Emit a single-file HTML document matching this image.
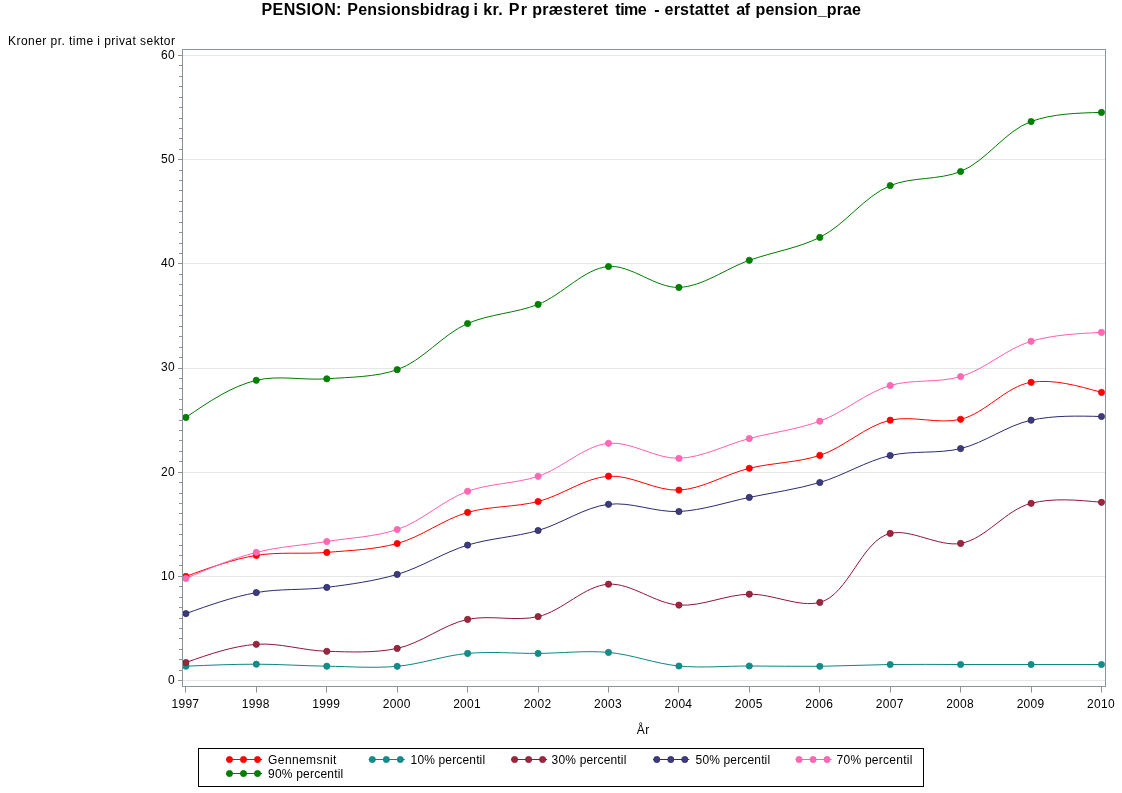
<!DOCTYPE html>
<html lang="da"><head><meta charset="utf-8"><title>PENSION</title>
<style>html,body{margin:0;padding:0;background:#fff;width:1122px;height:793px;overflow:hidden}body{position:relative}.t{font-family:"Liberation Sans",sans-serif}</style></head>
<body>
<svg width="1122" height="793" viewBox="0 0 1122 793" style="position:absolute;left:0;top:0">
<line x1="182.5" y1="680.5" x2="1105.5" y2="680.5" stroke="#E6E6E6" stroke-width="1"/>
<line x1="182.5" y1="576.5" x2="1105.5" y2="576.5" stroke="#E6E6E6" stroke-width="1"/>
<line x1="182.5" y1="472.5" x2="1105.5" y2="472.5" stroke="#E6E6E6" stroke-width="1"/>
<line x1="182.5" y1="368.5" x2="1105.5" y2="368.5" stroke="#E6E6E6" stroke-width="1"/>
<line x1="182.5" y1="263.5" x2="1105.5" y2="263.5" stroke="#E6E6E6" stroke-width="1"/>
<line x1="182.5" y1="159.5" x2="1105.5" y2="159.5" stroke="#E6E6E6" stroke-width="1"/>
<line x1="182.5" y1="55.5" x2="1105.5" y2="55.5" stroke="#E6E6E6" stroke-width="1"/>
<path d="M185.90 576.40 C209.12 567.88 232.34 559.36 256.33 555.40 C279.34 551.60 303.37 554.37 326.76 552.40 C350.32 550.42 374.59 549.63 397.19 543.50 C421.70 536.85 443.16 519.42 467.62 512.40 C490.26 505.90 515.12 507.28 538.05 501.50 C562.13 495.43 584.49 477.86 608.48 476.20 C631.49 474.60 655.74 491.24 678.91 490.10 C702.71 488.93 725.51 474.13 749.34 468.30 C772.48 462.64 797.31 462.73 819.77 455.40 C844.47 447.34 865.26 425.92 890.20 420.20 C912.51 415.09 938.42 424.59 960.63 419.30 C985.72 413.33 1006.12 386.14 1031.06 382.30 C1053.37 378.87 1077.43 385.63 1101.49 392.40" fill="none" stroke="#FF0000" stroke-width="1"/>
<path d="M185.90 666.20 C209.38 665.20 232.85 664.20 256.33 664.20 C279.81 664.20 303.28 665.85 326.76 666.20 C350.23 666.55 373.90 668.38 397.19 666.30 C420.86 664.18 443.95 655.53 467.62 653.40 C490.91 651.30 514.57 653.57 538.05 653.40 C561.53 653.23 585.21 650.36 608.48 652.40 C632.17 654.47 655.21 663.75 678.91 666.00 C702.18 668.21 725.86 665.95 749.34 666.00 C772.82 666.05 796.30 666.55 819.77 666.30 C843.25 666.05 866.72 664.80 890.20 664.50 C913.67 664.20 937.15 664.50 960.63 664.50 C984.11 664.50 1007.58 664.50 1031.06 664.50 C1054.54 664.50 1078.01 664.50 1101.49 664.50" fill="none" stroke="#0C8682" stroke-width="1"/>
<path d="M185.90 662.50 C209.21 654.29 232.52 646.08 256.33 644.30 C279.49 642.57 303.24 650.62 326.76 651.30 C350.19 651.98 374.55 653.20 397.19 648.40 C421.65 643.21 443.16 624.57 467.62 619.40 C490.26 614.62 515.59 621.77 538.05 616.60 C562.75 610.92 584.34 585.68 608.48 584.20 C631.36 582.80 655.07 603.57 678.91 605.10 C702.04 606.58 725.80 594.63 749.34 594.20 C772.76 593.77 799.05 607.73 819.77 602.40 C848.58 594.99 861.46 540.36 890.20 533.40 C910.94 528.38 938.50 547.11 960.63 543.40 C985.85 539.17 1005.69 509.72 1031.06 503.30 C1053.11 497.72 1077.30 500.01 1101.49 502.30" fill="none" stroke="#8E1638" stroke-width="1"/>
<path d="M185.90 613.60 C209.13 605.28 232.37 596.95 256.33 592.60 C279.36 588.42 303.45 590.39 326.76 587.40 C350.40 584.36 374.41 581.08 397.19 574.40 C421.45 567.29 443.41 552.50 467.62 545.10 C490.45 538.13 515.07 537.07 538.05 530.50 C562.06 523.63 584.26 507.22 608.48 504.30 C631.30 501.54 655.60 512.59 678.91 511.50 C702.56 510.39 725.89 502.23 749.34 497.40 C772.84 492.56 796.82 489.24 819.77 482.50 C843.82 475.44 865.93 461.12 890.20 455.50 C912.97 450.23 937.92 454.05 960.63 448.60 C985.00 442.76 1006.65 425.45 1031.06 420.20 C1053.73 415.33 1077.61 415.91 1101.49 416.50" fill="none" stroke="#2C2A6E" stroke-width="1"/>
<path d="M185.90 578.40 C209.05 568.49 232.21 558.58 256.33 552.40 C279.23 546.53 303.31 545.31 326.76 541.50 C350.27 537.68 374.91 536.97 397.19 529.50 C422.17 521.13 442.75 500.26 467.62 491.30 C489.97 483.25 515.41 483.79 538.05 476.30 C562.50 468.21 584.03 445.78 608.48 443.30 C631.12 441.00 655.62 459.00 678.91 458.30 C702.58 457.59 725.76 444.71 749.34 438.50 C772.71 432.35 797.21 429.44 819.77 421.20 C844.33 412.23 865.34 392.87 890.20 385.50 C912.55 378.87 938.25 383.19 960.63 376.60 C985.46 369.29 1006.23 348.61 1031.06 341.30 C1053.44 334.71 1077.46 333.56 1101.49 332.40" fill="none" stroke="#FF5FB0" stroke-width="1"/>
<path d="M185.90 417.40 C208.57 401.90 231.23 386.41 256.33 380.30 C278.54 374.90 303.38 380.55 326.76 378.80 C350.33 377.04 375.40 377.29 397.19 369.70 C423.04 360.70 442.20 334.59 467.62 323.50 C489.64 313.90 515.55 313.23 538.05 304.40 C562.71 294.72 583.92 268.60 608.48 266.50 C631.04 264.58 655.74 288.21 678.91 287.40 C702.71 286.57 725.64 268.70 749.34 260.30 C772.60 252.06 797.94 248.24 819.77 237.40 C845.54 224.60 863.92 196.53 890.20 185.60 C911.79 176.62 938.95 180.36 960.63 171.50 C986.70 160.85 1004.80 131.04 1031.06 121.50 C1052.65 113.65 1077.07 113.03 1101.49 112.40" fill="none" stroke="#007A00" stroke-width="1"/>
<circle cx="185.9" cy="576.4" r="3.1" fill="#FF0000" stroke="#FF0000" stroke-width="0.8"/>
<circle cx="256.3" cy="555.4" r="3.1" fill="#FF0000" stroke="#FF0000" stroke-width="0.8"/>
<circle cx="326.8" cy="552.4" r="3.1" fill="#FF0000" stroke="#FF0000" stroke-width="0.8"/>
<circle cx="397.2" cy="543.5" r="3.1" fill="#FF0000" stroke="#FF0000" stroke-width="0.8"/>
<circle cx="467.6" cy="512.4" r="3.1" fill="#FF0000" stroke="#FF0000" stroke-width="0.8"/>
<circle cx="538.1" cy="501.5" r="3.1" fill="#FF0000" stroke="#FF0000" stroke-width="0.8"/>
<circle cx="608.5" cy="476.2" r="3.1" fill="#FF0000" stroke="#FF0000" stroke-width="0.8"/>
<circle cx="678.9" cy="490.1" r="3.1" fill="#FF0000" stroke="#FF0000" stroke-width="0.8"/>
<circle cx="749.3" cy="468.3" r="3.1" fill="#FF0000" stroke="#FF0000" stroke-width="0.8"/>
<circle cx="819.8" cy="455.4" r="3.1" fill="#FF0000" stroke="#FF0000" stroke-width="0.8"/>
<circle cx="890.2" cy="420.2" r="3.1" fill="#FF0000" stroke="#FF0000" stroke-width="0.8"/>
<circle cx="960.6" cy="419.3" r="3.1" fill="#FF0000" stroke="#FF0000" stroke-width="0.8"/>
<circle cx="1031.1" cy="382.3" r="3.1" fill="#FF0000" stroke="#FF0000" stroke-width="0.8"/>
<circle cx="1101.5" cy="392.4" r="3.1" fill="#FF0000" stroke="#FF0000" stroke-width="0.8"/>
<circle cx="185.9" cy="666.2" r="3.1" fill="#168C89" stroke="#0C8682" stroke-width="0.8"/>
<circle cx="256.3" cy="664.2" r="3.1" fill="#168C89" stroke="#0C8682" stroke-width="0.8"/>
<circle cx="326.8" cy="666.2" r="3.1" fill="#168C89" stroke="#0C8682" stroke-width="0.8"/>
<circle cx="397.2" cy="666.3" r="3.1" fill="#168C89" stroke="#0C8682" stroke-width="0.8"/>
<circle cx="467.6" cy="653.4" r="3.1" fill="#168C89" stroke="#0C8682" stroke-width="0.8"/>
<circle cx="538.1" cy="653.4" r="3.1" fill="#168C89" stroke="#0C8682" stroke-width="0.8"/>
<circle cx="608.5" cy="652.4" r="3.1" fill="#168C89" stroke="#0C8682" stroke-width="0.8"/>
<circle cx="678.9" cy="666.0" r="3.1" fill="#168C89" stroke="#0C8682" stroke-width="0.8"/>
<circle cx="749.3" cy="666.0" r="3.1" fill="#168C89" stroke="#0C8682" stroke-width="0.8"/>
<circle cx="819.8" cy="666.3" r="3.1" fill="#168C89" stroke="#0C8682" stroke-width="0.8"/>
<circle cx="890.2" cy="664.5" r="3.1" fill="#168C89" stroke="#0C8682" stroke-width="0.8"/>
<circle cx="960.6" cy="664.5" r="3.1" fill="#168C89" stroke="#0C8682" stroke-width="0.8"/>
<circle cx="1031.1" cy="664.5" r="3.1" fill="#168C89" stroke="#0C8682" stroke-width="0.8"/>
<circle cx="1101.5" cy="664.5" r="3.1" fill="#168C89" stroke="#0C8682" stroke-width="0.8"/>
<circle cx="185.9" cy="662.5" r="3.1" fill="#98283C" stroke="#8E1638" stroke-width="0.8"/>
<circle cx="256.3" cy="644.3" r="3.1" fill="#98283C" stroke="#8E1638" stroke-width="0.8"/>
<circle cx="326.8" cy="651.3" r="3.1" fill="#98283C" stroke="#8E1638" stroke-width="0.8"/>
<circle cx="397.2" cy="648.4" r="3.1" fill="#98283C" stroke="#8E1638" stroke-width="0.8"/>
<circle cx="467.6" cy="619.4" r="3.1" fill="#98283C" stroke="#8E1638" stroke-width="0.8"/>
<circle cx="538.1" cy="616.6" r="3.1" fill="#98283C" stroke="#8E1638" stroke-width="0.8"/>
<circle cx="608.5" cy="584.2" r="3.1" fill="#98283C" stroke="#8E1638" stroke-width="0.8"/>
<circle cx="678.9" cy="605.1" r="3.1" fill="#98283C" stroke="#8E1638" stroke-width="0.8"/>
<circle cx="749.3" cy="594.2" r="3.1" fill="#98283C" stroke="#8E1638" stroke-width="0.8"/>
<circle cx="819.8" cy="602.4" r="3.1" fill="#98283C" stroke="#8E1638" stroke-width="0.8"/>
<circle cx="890.2" cy="533.4" r="3.1" fill="#98283C" stroke="#8E1638" stroke-width="0.8"/>
<circle cx="960.6" cy="543.4" r="3.1" fill="#98283C" stroke="#8E1638" stroke-width="0.8"/>
<circle cx="1031.1" cy="503.3" r="3.1" fill="#98283C" stroke="#8E1638" stroke-width="0.8"/>
<circle cx="1101.5" cy="502.3" r="3.1" fill="#98283C" stroke="#8E1638" stroke-width="0.8"/>
<circle cx="185.9" cy="613.6" r="3.1" fill="#3E3C78" stroke="#2C2A6E" stroke-width="0.8"/>
<circle cx="256.3" cy="592.6" r="3.1" fill="#3E3C78" stroke="#2C2A6E" stroke-width="0.8"/>
<circle cx="326.8" cy="587.4" r="3.1" fill="#3E3C78" stroke="#2C2A6E" stroke-width="0.8"/>
<circle cx="397.2" cy="574.4" r="3.1" fill="#3E3C78" stroke="#2C2A6E" stroke-width="0.8"/>
<circle cx="467.6" cy="545.1" r="3.1" fill="#3E3C78" stroke="#2C2A6E" stroke-width="0.8"/>
<circle cx="538.1" cy="530.5" r="3.1" fill="#3E3C78" stroke="#2C2A6E" stroke-width="0.8"/>
<circle cx="608.5" cy="504.3" r="3.1" fill="#3E3C78" stroke="#2C2A6E" stroke-width="0.8"/>
<circle cx="678.9" cy="511.5" r="3.1" fill="#3E3C78" stroke="#2C2A6E" stroke-width="0.8"/>
<circle cx="749.3" cy="497.4" r="3.1" fill="#3E3C78" stroke="#2C2A6E" stroke-width="0.8"/>
<circle cx="819.8" cy="482.5" r="3.1" fill="#3E3C78" stroke="#2C2A6E" stroke-width="0.8"/>
<circle cx="890.2" cy="455.5" r="3.1" fill="#3E3C78" stroke="#2C2A6E" stroke-width="0.8"/>
<circle cx="960.6" cy="448.6" r="3.1" fill="#3E3C78" stroke="#2C2A6E" stroke-width="0.8"/>
<circle cx="1031.1" cy="420.2" r="3.1" fill="#3E3C78" stroke="#2C2A6E" stroke-width="0.8"/>
<circle cx="1101.5" cy="416.5" r="3.1" fill="#3E3C78" stroke="#2C2A6E" stroke-width="0.8"/>
<circle cx="185.9" cy="578.4" r="3.1" fill="#FF69B4" stroke="#FF5FB0" stroke-width="0.8"/>
<circle cx="256.3" cy="552.4" r="3.1" fill="#FF69B4" stroke="#FF5FB0" stroke-width="0.8"/>
<circle cx="326.8" cy="541.5" r="3.1" fill="#FF69B4" stroke="#FF5FB0" stroke-width="0.8"/>
<circle cx="397.2" cy="529.5" r="3.1" fill="#FF69B4" stroke="#FF5FB0" stroke-width="0.8"/>
<circle cx="467.6" cy="491.3" r="3.1" fill="#FF69B4" stroke="#FF5FB0" stroke-width="0.8"/>
<circle cx="538.1" cy="476.3" r="3.1" fill="#FF69B4" stroke="#FF5FB0" stroke-width="0.8"/>
<circle cx="608.5" cy="443.3" r="3.1" fill="#FF69B4" stroke="#FF5FB0" stroke-width="0.8"/>
<circle cx="678.9" cy="458.3" r="3.1" fill="#FF69B4" stroke="#FF5FB0" stroke-width="0.8"/>
<circle cx="749.3" cy="438.5" r="3.1" fill="#FF69B4" stroke="#FF5FB0" stroke-width="0.8"/>
<circle cx="819.8" cy="421.2" r="3.1" fill="#FF69B4" stroke="#FF5FB0" stroke-width="0.8"/>
<circle cx="890.2" cy="385.5" r="3.1" fill="#FF69B4" stroke="#FF5FB0" stroke-width="0.8"/>
<circle cx="960.6" cy="376.6" r="3.1" fill="#FF69B4" stroke="#FF5FB0" stroke-width="0.8"/>
<circle cx="1031.1" cy="341.3" r="3.1" fill="#FF69B4" stroke="#FF5FB0" stroke-width="0.8"/>
<circle cx="1101.5" cy="332.4" r="3.1" fill="#FF69B4" stroke="#FF5FB0" stroke-width="0.8"/>
<circle cx="185.9" cy="417.4" r="3.1" fill="#008000" stroke="#007A00" stroke-width="0.8"/>
<circle cx="256.3" cy="380.3" r="3.1" fill="#008000" stroke="#007A00" stroke-width="0.8"/>
<circle cx="326.8" cy="378.8" r="3.1" fill="#008000" stroke="#007A00" stroke-width="0.8"/>
<circle cx="397.2" cy="369.7" r="3.1" fill="#008000" stroke="#007A00" stroke-width="0.8"/>
<circle cx="467.6" cy="323.5" r="3.1" fill="#008000" stroke="#007A00" stroke-width="0.8"/>
<circle cx="538.1" cy="304.4" r="3.1" fill="#008000" stroke="#007A00" stroke-width="0.8"/>
<circle cx="608.5" cy="266.5" r="3.1" fill="#008000" stroke="#007A00" stroke-width="0.8"/>
<circle cx="678.9" cy="287.4" r="3.1" fill="#008000" stroke="#007A00" stroke-width="0.8"/>
<circle cx="749.3" cy="260.3" r="3.1" fill="#008000" stroke="#007A00" stroke-width="0.8"/>
<circle cx="819.8" cy="237.4" r="3.1" fill="#008000" stroke="#007A00" stroke-width="0.8"/>
<circle cx="890.2" cy="185.6" r="3.1" fill="#008000" stroke="#007A00" stroke-width="0.8"/>
<circle cx="960.6" cy="171.5" r="3.1" fill="#008000" stroke="#007A00" stroke-width="0.8"/>
<circle cx="1031.1" cy="121.5" r="3.1" fill="#008000" stroke="#007A00" stroke-width="0.8"/>
<circle cx="1101.5" cy="112.4" r="3.1" fill="#008000" stroke="#007A00" stroke-width="0.8"/>
<rect x="182.5" y="49.5" width="923.0" height="637.0" fill="none" stroke="#8C9399" stroke-width="1"/>
<line x1="178.0" y1="680.5" x2="182.5" y2="680.5" stroke="#8C9399"/>
<line x1="179.0" y1="670.5" x2="182.5" y2="670.5" stroke="#8C9399"/>
<line x1="179.0" y1="659.5" x2="182.5" y2="659.5" stroke="#8C9399"/>
<line x1="179.0" y1="649.5" x2="182.5" y2="649.5" stroke="#8C9399"/>
<line x1="179.0" y1="638.5" x2="182.5" y2="638.5" stroke="#8C9399"/>
<line x1="179.0" y1="628.5" x2="182.5" y2="628.5" stroke="#8C9399"/>
<line x1="179.0" y1="618.5" x2="182.5" y2="618.5" stroke="#8C9399"/>
<line x1="179.0" y1="607.5" x2="182.5" y2="607.5" stroke="#8C9399"/>
<line x1="179.0" y1="597.5" x2="182.5" y2="597.5" stroke="#8C9399"/>
<line x1="179.0" y1="586.5" x2="182.5" y2="586.5" stroke="#8C9399"/>
<line x1="178.0" y1="576.5" x2="182.5" y2="576.5" stroke="#8C9399"/>
<line x1="179.0" y1="565.5" x2="182.5" y2="565.5" stroke="#8C9399"/>
<line x1="179.0" y1="555.5" x2="182.5" y2="555.5" stroke="#8C9399"/>
<line x1="179.0" y1="545.5" x2="182.5" y2="545.5" stroke="#8C9399"/>
<line x1="179.0" y1="534.5" x2="182.5" y2="534.5" stroke="#8C9399"/>
<line x1="179.0" y1="524.5" x2="182.5" y2="524.5" stroke="#8C9399"/>
<line x1="179.0" y1="513.5" x2="182.5" y2="513.5" stroke="#8C9399"/>
<line x1="179.0" y1="503.5" x2="182.5" y2="503.5" stroke="#8C9399"/>
<line x1="179.0" y1="493.5" x2="182.5" y2="493.5" stroke="#8C9399"/>
<line x1="179.0" y1="482.5" x2="182.5" y2="482.5" stroke="#8C9399"/>
<line x1="178.0" y1="472.5" x2="182.5" y2="472.5" stroke="#8C9399"/>
<line x1="179.0" y1="461.5" x2="182.5" y2="461.5" stroke="#8C9399"/>
<line x1="179.0" y1="451.5" x2="182.5" y2="451.5" stroke="#8C9399"/>
<line x1="179.0" y1="440.5" x2="182.5" y2="440.5" stroke="#8C9399"/>
<line x1="179.0" y1="430.5" x2="182.5" y2="430.5" stroke="#8C9399"/>
<line x1="179.0" y1="420.5" x2="182.5" y2="420.5" stroke="#8C9399"/>
<line x1="179.0" y1="409.5" x2="182.5" y2="409.5" stroke="#8C9399"/>
<line x1="179.0" y1="399.5" x2="182.5" y2="399.5" stroke="#8C9399"/>
<line x1="179.0" y1="388.5" x2="182.5" y2="388.5" stroke="#8C9399"/>
<line x1="179.0" y1="378.5" x2="182.5" y2="378.5" stroke="#8C9399"/>
<line x1="178.0" y1="368.5" x2="182.5" y2="368.5" stroke="#8C9399"/>
<line x1="179.0" y1="357.5" x2="182.5" y2="357.5" stroke="#8C9399"/>
<line x1="179.0" y1="347.5" x2="182.5" y2="347.5" stroke="#8C9399"/>
<line x1="179.0" y1="336.5" x2="182.5" y2="336.5" stroke="#8C9399"/>
<line x1="179.0" y1="326.5" x2="182.5" y2="326.5" stroke="#8C9399"/>
<line x1="179.0" y1="315.5" x2="182.5" y2="315.5" stroke="#8C9399"/>
<line x1="179.0" y1="305.5" x2="182.5" y2="305.5" stroke="#8C9399"/>
<line x1="179.0" y1="295.5" x2="182.5" y2="295.5" stroke="#8C9399"/>
<line x1="179.0" y1="284.5" x2="182.5" y2="284.5" stroke="#8C9399"/>
<line x1="179.0" y1="274.5" x2="182.5" y2="274.5" stroke="#8C9399"/>
<line x1="178.0" y1="263.5" x2="182.5" y2="263.5" stroke="#8C9399"/>
<line x1="179.0" y1="253.5" x2="182.5" y2="253.5" stroke="#8C9399"/>
<line x1="179.0" y1="243.5" x2="182.5" y2="243.5" stroke="#8C9399"/>
<line x1="179.0" y1="232.5" x2="182.5" y2="232.5" stroke="#8C9399"/>
<line x1="179.0" y1="222.5" x2="182.5" y2="222.5" stroke="#8C9399"/>
<line x1="179.0" y1="211.5" x2="182.5" y2="211.5" stroke="#8C9399"/>
<line x1="179.0" y1="201.5" x2="182.5" y2="201.5" stroke="#8C9399"/>
<line x1="179.0" y1="190.5" x2="182.5" y2="190.5" stroke="#8C9399"/>
<line x1="179.0" y1="180.5" x2="182.5" y2="180.5" stroke="#8C9399"/>
<line x1="179.0" y1="170.5" x2="182.5" y2="170.5" stroke="#8C9399"/>
<line x1="178.0" y1="159.5" x2="182.5" y2="159.5" stroke="#8C9399"/>
<line x1="179.0" y1="149.5" x2="182.5" y2="149.5" stroke="#8C9399"/>
<line x1="179.0" y1="138.5" x2="182.5" y2="138.5" stroke="#8C9399"/>
<line x1="179.0" y1="128.5" x2="182.5" y2="128.5" stroke="#8C9399"/>
<line x1="179.0" y1="118.5" x2="182.5" y2="118.5" stroke="#8C9399"/>
<line x1="179.0" y1="107.5" x2="182.5" y2="107.5" stroke="#8C9399"/>
<line x1="179.0" y1="97.5" x2="182.5" y2="97.5" stroke="#8C9399"/>
<line x1="179.0" y1="86.5" x2="182.5" y2="86.5" stroke="#8C9399"/>
<line x1="179.0" y1="76.5" x2="182.5" y2="76.5" stroke="#8C9399"/>
<line x1="179.0" y1="65.5" x2="182.5" y2="65.5" stroke="#8C9399"/>
<line x1="178.0" y1="55.5" x2="182.5" y2="55.5" stroke="#8C9399"/>
<line x1="185.5" y1="686.5" x2="185.5" y2="692.5" stroke="#8C9399"/>
<line x1="256.5" y1="686.5" x2="256.5" y2="692.5" stroke="#8C9399"/>
<line x1="326.5" y1="686.5" x2="326.5" y2="692.5" stroke="#8C9399"/>
<line x1="397.5" y1="686.5" x2="397.5" y2="692.5" stroke="#8C9399"/>
<line x1="467.5" y1="686.5" x2="467.5" y2="692.5" stroke="#8C9399"/>
<line x1="538.5" y1="686.5" x2="538.5" y2="692.5" stroke="#8C9399"/>
<line x1="608.5" y1="686.5" x2="608.5" y2="692.5" stroke="#8C9399"/>
<line x1="678.5" y1="686.5" x2="678.5" y2="692.5" stroke="#8C9399"/>
<line x1="749.5" y1="686.5" x2="749.5" y2="692.5" stroke="#8C9399"/>
<line x1="819.5" y1="686.5" x2="819.5" y2="692.5" stroke="#8C9399"/>
<line x1="890.5" y1="686.5" x2="890.5" y2="692.5" stroke="#8C9399"/>
<line x1="960.5" y1="686.5" x2="960.5" y2="692.5" stroke="#8C9399"/>
<line x1="1031.5" y1="686.5" x2="1031.5" y2="692.5" stroke="#8C9399"/>
<line x1="1101.5" y1="686.5" x2="1101.5" y2="692.5" stroke="#8C9399"/>
<text x="174.9" y="683.9" text-anchor="end" font-size="12" letter-spacing="0.3" class="t" fill="#000">0</text>
<text x="174.9" y="579.8" text-anchor="end" font-size="12" letter-spacing="0.3" class="t" fill="#000">10</text>
<text x="174.9" y="475.6" text-anchor="end" font-size="12" letter-spacing="0.3" class="t" fill="#000">20</text>
<text x="174.9" y="371.4" text-anchor="end" font-size="12" letter-spacing="0.3" class="t" fill="#000">30</text>
<text x="174.9" y="267.3" text-anchor="end" font-size="12" letter-spacing="0.3" class="t" fill="#000">40</text>
<text x="174.9" y="163.1" text-anchor="end" font-size="12" letter-spacing="0.3" class="t" fill="#000">50</text>
<text x="174.9" y="58.9" text-anchor="end" font-size="12" letter-spacing="0.3" class="t" fill="#000">60</text>
<text x="185.4" y="707.8" text-anchor="middle" font-size="12" letter-spacing="0.3" class="t" fill="#000">1997</text>
<text x="255.8" y="707.8" text-anchor="middle" font-size="12" letter-spacing="0.3" class="t" fill="#000">1998</text>
<text x="326.3" y="707.8" text-anchor="middle" font-size="12" letter-spacing="0.3" class="t" fill="#000">1999</text>
<text x="396.7" y="707.8" text-anchor="middle" font-size="12" letter-spacing="0.3" class="t" fill="#000">2000</text>
<text x="467.1" y="707.8" text-anchor="middle" font-size="12" letter-spacing="0.3" class="t" fill="#000">2001</text>
<text x="537.6" y="707.8" text-anchor="middle" font-size="12" letter-spacing="0.3" class="t" fill="#000">2002</text>
<text x="608.0" y="707.8" text-anchor="middle" font-size="12" letter-spacing="0.3" class="t" fill="#000">2003</text>
<text x="678.4" y="707.8" text-anchor="middle" font-size="12" letter-spacing="0.3" class="t" fill="#000">2004</text>
<text x="748.8" y="707.8" text-anchor="middle" font-size="12" letter-spacing="0.3" class="t" fill="#000">2005</text>
<text x="819.3" y="707.8" text-anchor="middle" font-size="12" letter-spacing="0.3" class="t" fill="#000">2006</text>
<text x="889.7" y="707.8" text-anchor="middle" font-size="12" letter-spacing="0.3" class="t" fill="#000">2007</text>
<text x="960.1" y="707.8" text-anchor="middle" font-size="12" letter-spacing="0.3" class="t" fill="#000">2008</text>
<text x="1030.6" y="707.8" text-anchor="middle" font-size="12" letter-spacing="0.3" class="t" fill="#000">2009</text>
<text x="1101.0" y="707.8" text-anchor="middle" font-size="12" letter-spacing="0.3" class="t" fill="#000">2010</text>
<text x="643.3" y="733.7" text-anchor="middle" font-size="12" letter-spacing="0.5" class="t" fill="#000">År</text>
<text x="8" y="44.5" font-size="12" class="t" fill="#000" textLength="167" lengthAdjust="spacing">Kroner pr. time i privat sektor</text>
<text y="14.7" font-size="16" font-weight="bold" class="t" fill="#000"><tspan x="261.6" letter-spacing="0.35">PENSION:</tspan> <tspan x="347.3" letter-spacing="0.18">Pensionsbidrag</tspan> <tspan x="473.6" letter-spacing="0">i</tspan> <tspan x="483.3" letter-spacing="0.3">kr.</tspan> <tspan x="508.8" letter-spacing="1.3">Pr</tspan> <tspan x="532.3" letter-spacing="0.25">præsteret</tspan> <tspan x="615.3" letter-spacing="-0.5">time</tspan> <tspan x="654.3" letter-spacing="0">-</tspan> <tspan x="664.6" letter-spacing="0.2">erstattet</tspan> <tspan x="736.3" letter-spacing="-0.5">af</tspan> <tspan x="755.5" letter-spacing="0.13">pension_prae</tspan></text>
<rect x="198.5" y="748.5" width="725" height="38" fill="#fff" stroke="#000" stroke-width="1"/>
<line x1="226.0" y1="759.5" x2="262.0" y2="759.5" stroke="#FF0000" stroke-width="1.1"/>
<circle cx="229.5" cy="759.5" r="3.1" fill="#FF0000" stroke="#FF0000" stroke-width="0.8"/>
<circle cx="243.5" cy="759.5" r="3.1" fill="#FF0000" stroke="#FF0000" stroke-width="0.8"/>
<circle cx="257.5" cy="759.5" r="3.1" fill="#FF0000" stroke="#FF0000" stroke-width="0.8"/>
<text x="268.10" y="763.8" font-size="12" letter-spacing="0.400" class="t" fill="#000">Gennemsnit</text>
<line x1="368.8" y1="759.5" x2="404.8" y2="759.5" stroke="#0C8682" stroke-width="1.1"/>
<circle cx="372.3" cy="759.5" r="3.1" fill="#168C89" stroke="#0C8682" stroke-width="0.8"/>
<circle cx="386.3" cy="759.5" r="3.1" fill="#168C89" stroke="#0C8682" stroke-width="0.8"/>
<circle cx="400.3" cy="759.5" r="3.1" fill="#168C89" stroke="#0C8682" stroke-width="0.8"/>
<text x="410.60" y="763.8" font-size="12" letter-spacing="0.150" class="t" fill="#000">10% percentil</text>
<line x1="511.1" y1="759.5" x2="547.1" y2="759.5" stroke="#8E1638" stroke-width="1.1"/>
<circle cx="514.6" cy="759.5" r="3.1" fill="#98283C" stroke="#8E1638" stroke-width="0.8"/>
<circle cx="528.6" cy="759.5" r="3.1" fill="#98283C" stroke="#8E1638" stroke-width="0.8"/>
<circle cx="542.6" cy="759.5" r="3.1" fill="#98283C" stroke="#8E1638" stroke-width="0.8"/>
<text x="551.60" y="763.8" font-size="12" letter-spacing="0.170" class="t" fill="#000">30% percentil</text>
<line x1="653.3" y1="759.5" x2="689.3" y2="759.5" stroke="#2C2A6E" stroke-width="1.1"/>
<circle cx="656.8" cy="759.5" r="3.1" fill="#3E3C78" stroke="#2C2A6E" stroke-width="0.8"/>
<circle cx="670.8" cy="759.5" r="3.1" fill="#3E3C78" stroke="#2C2A6E" stroke-width="0.8"/>
<circle cx="684.8" cy="759.5" r="3.1" fill="#3E3C78" stroke="#2C2A6E" stroke-width="0.8"/>
<text x="695.60" y="763.8" font-size="12" letter-spacing="0.150" class="t" fill="#000">50% percentil</text>
<line x1="795.6" y1="759.5" x2="831.6" y2="759.5" stroke="#FF5FB0" stroke-width="1.1"/>
<circle cx="799.1" cy="759.5" r="3.1" fill="#FF69B4" stroke="#FF5FB0" stroke-width="0.8"/>
<circle cx="813.1" cy="759.5" r="3.1" fill="#FF69B4" stroke="#FF5FB0" stroke-width="0.8"/>
<circle cx="827.1" cy="759.5" r="3.1" fill="#FF69B4" stroke="#FF5FB0" stroke-width="0.8"/>
<text x="836.60" y="763.8" font-size="12" letter-spacing="0.250" class="t" fill="#000">70% percentil</text>
<line x1="226.0" y1="773.5" x2="262.0" y2="773.5" stroke="#007A00" stroke-width="1.1"/>
<circle cx="229.5" cy="773.5" r="3.1" fill="#008000" stroke="#007A00" stroke-width="0.8"/>
<circle cx="243.5" cy="773.5" r="3.1" fill="#008000" stroke="#007A00" stroke-width="0.8"/>
<circle cx="257.5" cy="773.5" r="3.1" fill="#008000" stroke="#007A00" stroke-width="0.8"/>
<text x="268.10" y="777.8" font-size="12" letter-spacing="0.200" class="t" fill="#000">90% percentil</text>
</svg>
</body></html>
